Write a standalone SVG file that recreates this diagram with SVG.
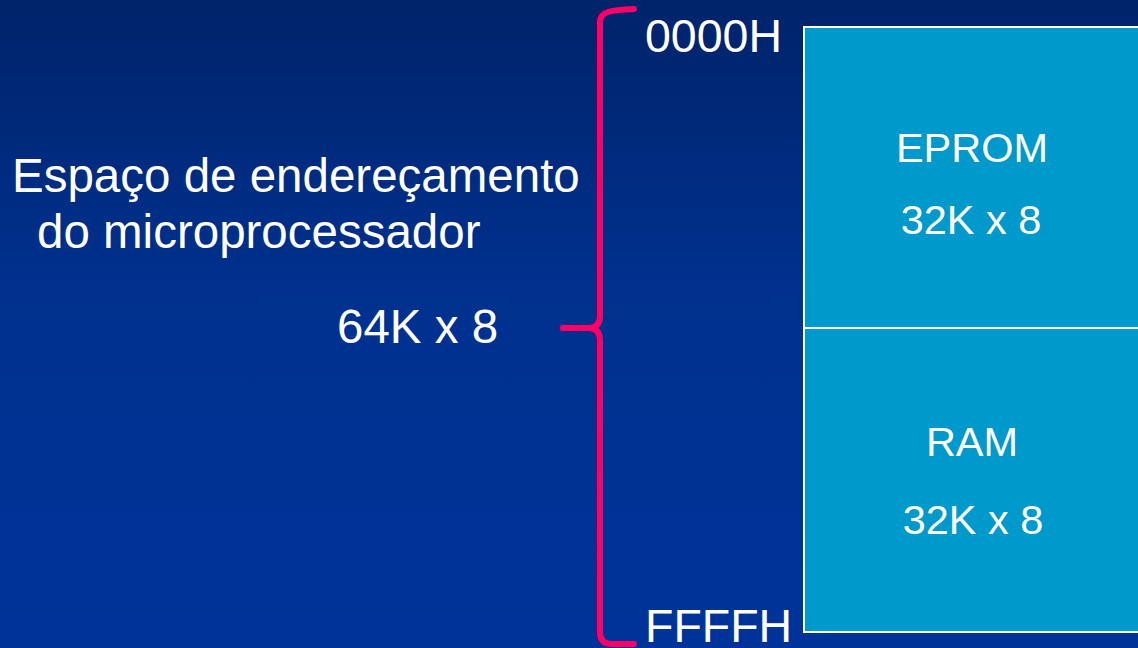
<svg xmlns="http://www.w3.org/2000/svg" width="1138" height="648" viewBox="0 0 1138 648">
  <defs>
    <linearGradient id="bg" x1="0" y1="0" x2="0" y2="1">
      <stop offset="0" stop-color="#00236a"/>
      <stop offset="0.45" stop-color="#00318f"/>
      <stop offset="1" stop-color="#003399"/>
    </linearGradient>
  </defs>
  <style>
    text { font-family: "Liberation Sans", Arial, sans-serif; fill: #ffffff; }
    .big { font-size: 47.5px; }
    .addr { font-size: 46.5px; }
    .mem { font-size: 41.5px; text-anchor: middle; }
    .block { fill: #0099cc; stroke: #ffffff; stroke-width: 2; }
    .brace { fill: none; stroke: #ff0066; stroke-width: 6; stroke-linecap: round; stroke-linejoin: round; }
  </style>

  <rect x="0" y="0" width="1138" height="648" fill="url(#bg)"/>

  <!-- address space description -->
  <g id="label-space">
    <text class="big" x="12" y="192">Espaço de endereçamento</text>
    <text class="big" x="37" y="248">do microprocessador</text>
    <text class="big" x="337" y="343">64K x 8</text>
  </g>

  <!-- curly brace spanning the whole address range -->
  <g id="connectors">
    <path class="brace" d="M 634 9 C 612 10 600 11 600 22 V 316 Q 600 328 588 328 H 563 M 588 328 Q 600 328 600 340 V 632 Q 600 644 612 644 H 634"/>
  </g>

  <g id="addr-start">
    <text class="addr" x="645" y="52">0000H</text>
  </g>
  <g id="addr-end">
    <text class="addr" x="645" y="642">FFFFH</text>
  </g>

  <!-- memory map -->
  <g id="eprom">
    <rect class="block" x="804" y="27" width="340" height="301"/>
    <text class="mem" x="972" y="162">EPROM</text>
    <text class="mem" x="971" y="234">32K x 8</text>
  </g>
  <g id="ram">
    <rect class="block" x="804" y="328" width="340" height="304"/>
    <text class="mem" x="972" y="456">RAM</text>
    <text class="mem" x="973" y="534">32K x 8</text>
  </g>
</svg>
